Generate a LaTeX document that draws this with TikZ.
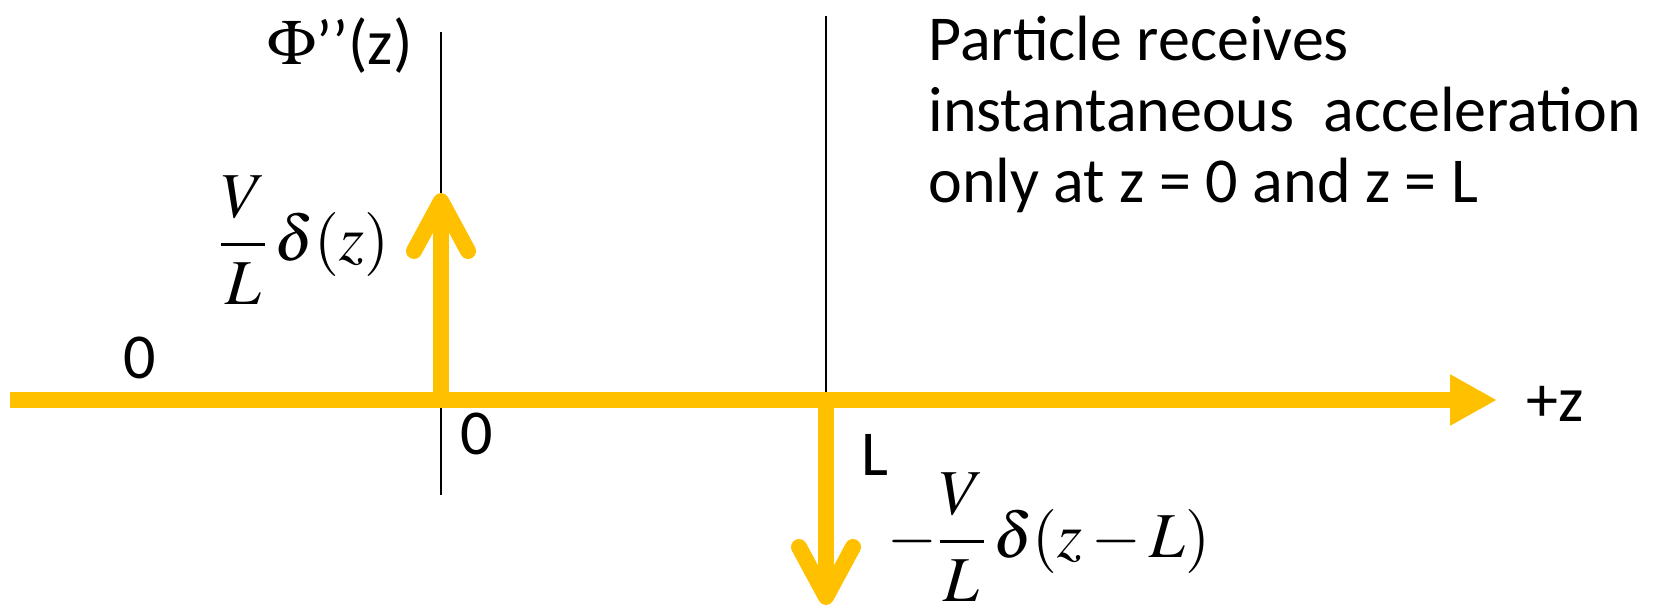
\documentclass[tikz,border=0pt]{standalone}
\usepackage{mathptmx}
\usepackage{fontspec}
\setmainfont{Carlito}
\usetikzlibrary{arrows.meta,positioning,calc}
\definecolor{gold}{HTML}{FFC000}

\begin{document}
\begin{tikzpicture}[x=0.5pt,y=-0.5pt,
  lbl/.style={inner sep=0pt,font=\fontsize{32}{35.5}\selectfont},
  axisline/.style={gold,line width=8pt,-{Triangle[length=23.5pt,width=24pt]}},
  impulse/.style={gold,line width=8pt,-{Straight Barb[length=25pt,width=27pt,round]}},
  guide/.style={black,line width=1pt}]
\useasboundingbox (0,0) rectangle (1653,610);

% points on the z axis
\coordinate (zstart) at (10,400);
\coordinate (zend) at (1497,400);
\coordinate (o) at (441,400);
\coordinate (l) at (826,400);
\coordinate (otop) at (441,32);
\coordinate (obot) at (441,495);
\coordinate (ltop) at (826,16);
\coordinate (up) at (441,193);
\coordinate (down) at (826,605);

\draw[guide] (otop) -- (obot);
\draw[guide] (ltop) -- (l);

\draw[axisline] (zstart) -- (zend);
\draw[impulse] (o) -- (up);
\draw[impulse] (l) -- (down);

% labels
\node[lbl] (phi) at (340,46) {$\Phi$’’(z)};
\node[lbl] (zero1) at (140,358) {0};
\node[lbl] (zero2) at (477,434) {0};
\node[lbl] (lmark) at (875,455) {L};
\node[lbl] (zlabel) at (1555,404) {+z};
\node[lbl] (dpos) at (304,240) {$\displaystyle\frac{V}{L}\,\delta(z)$};
\node[lbl] (dneg) at (1049,537) {$\displaystyle-\frac{V}{L}\,\delta(z-L)$};
\node[lbl,anchor=north west,align=left] (note) at (928,16)
  {Particle receives\\instantaneous~ acceleration\\only at z = 0 and z = L};
\end{tikzpicture}
\end{document}
